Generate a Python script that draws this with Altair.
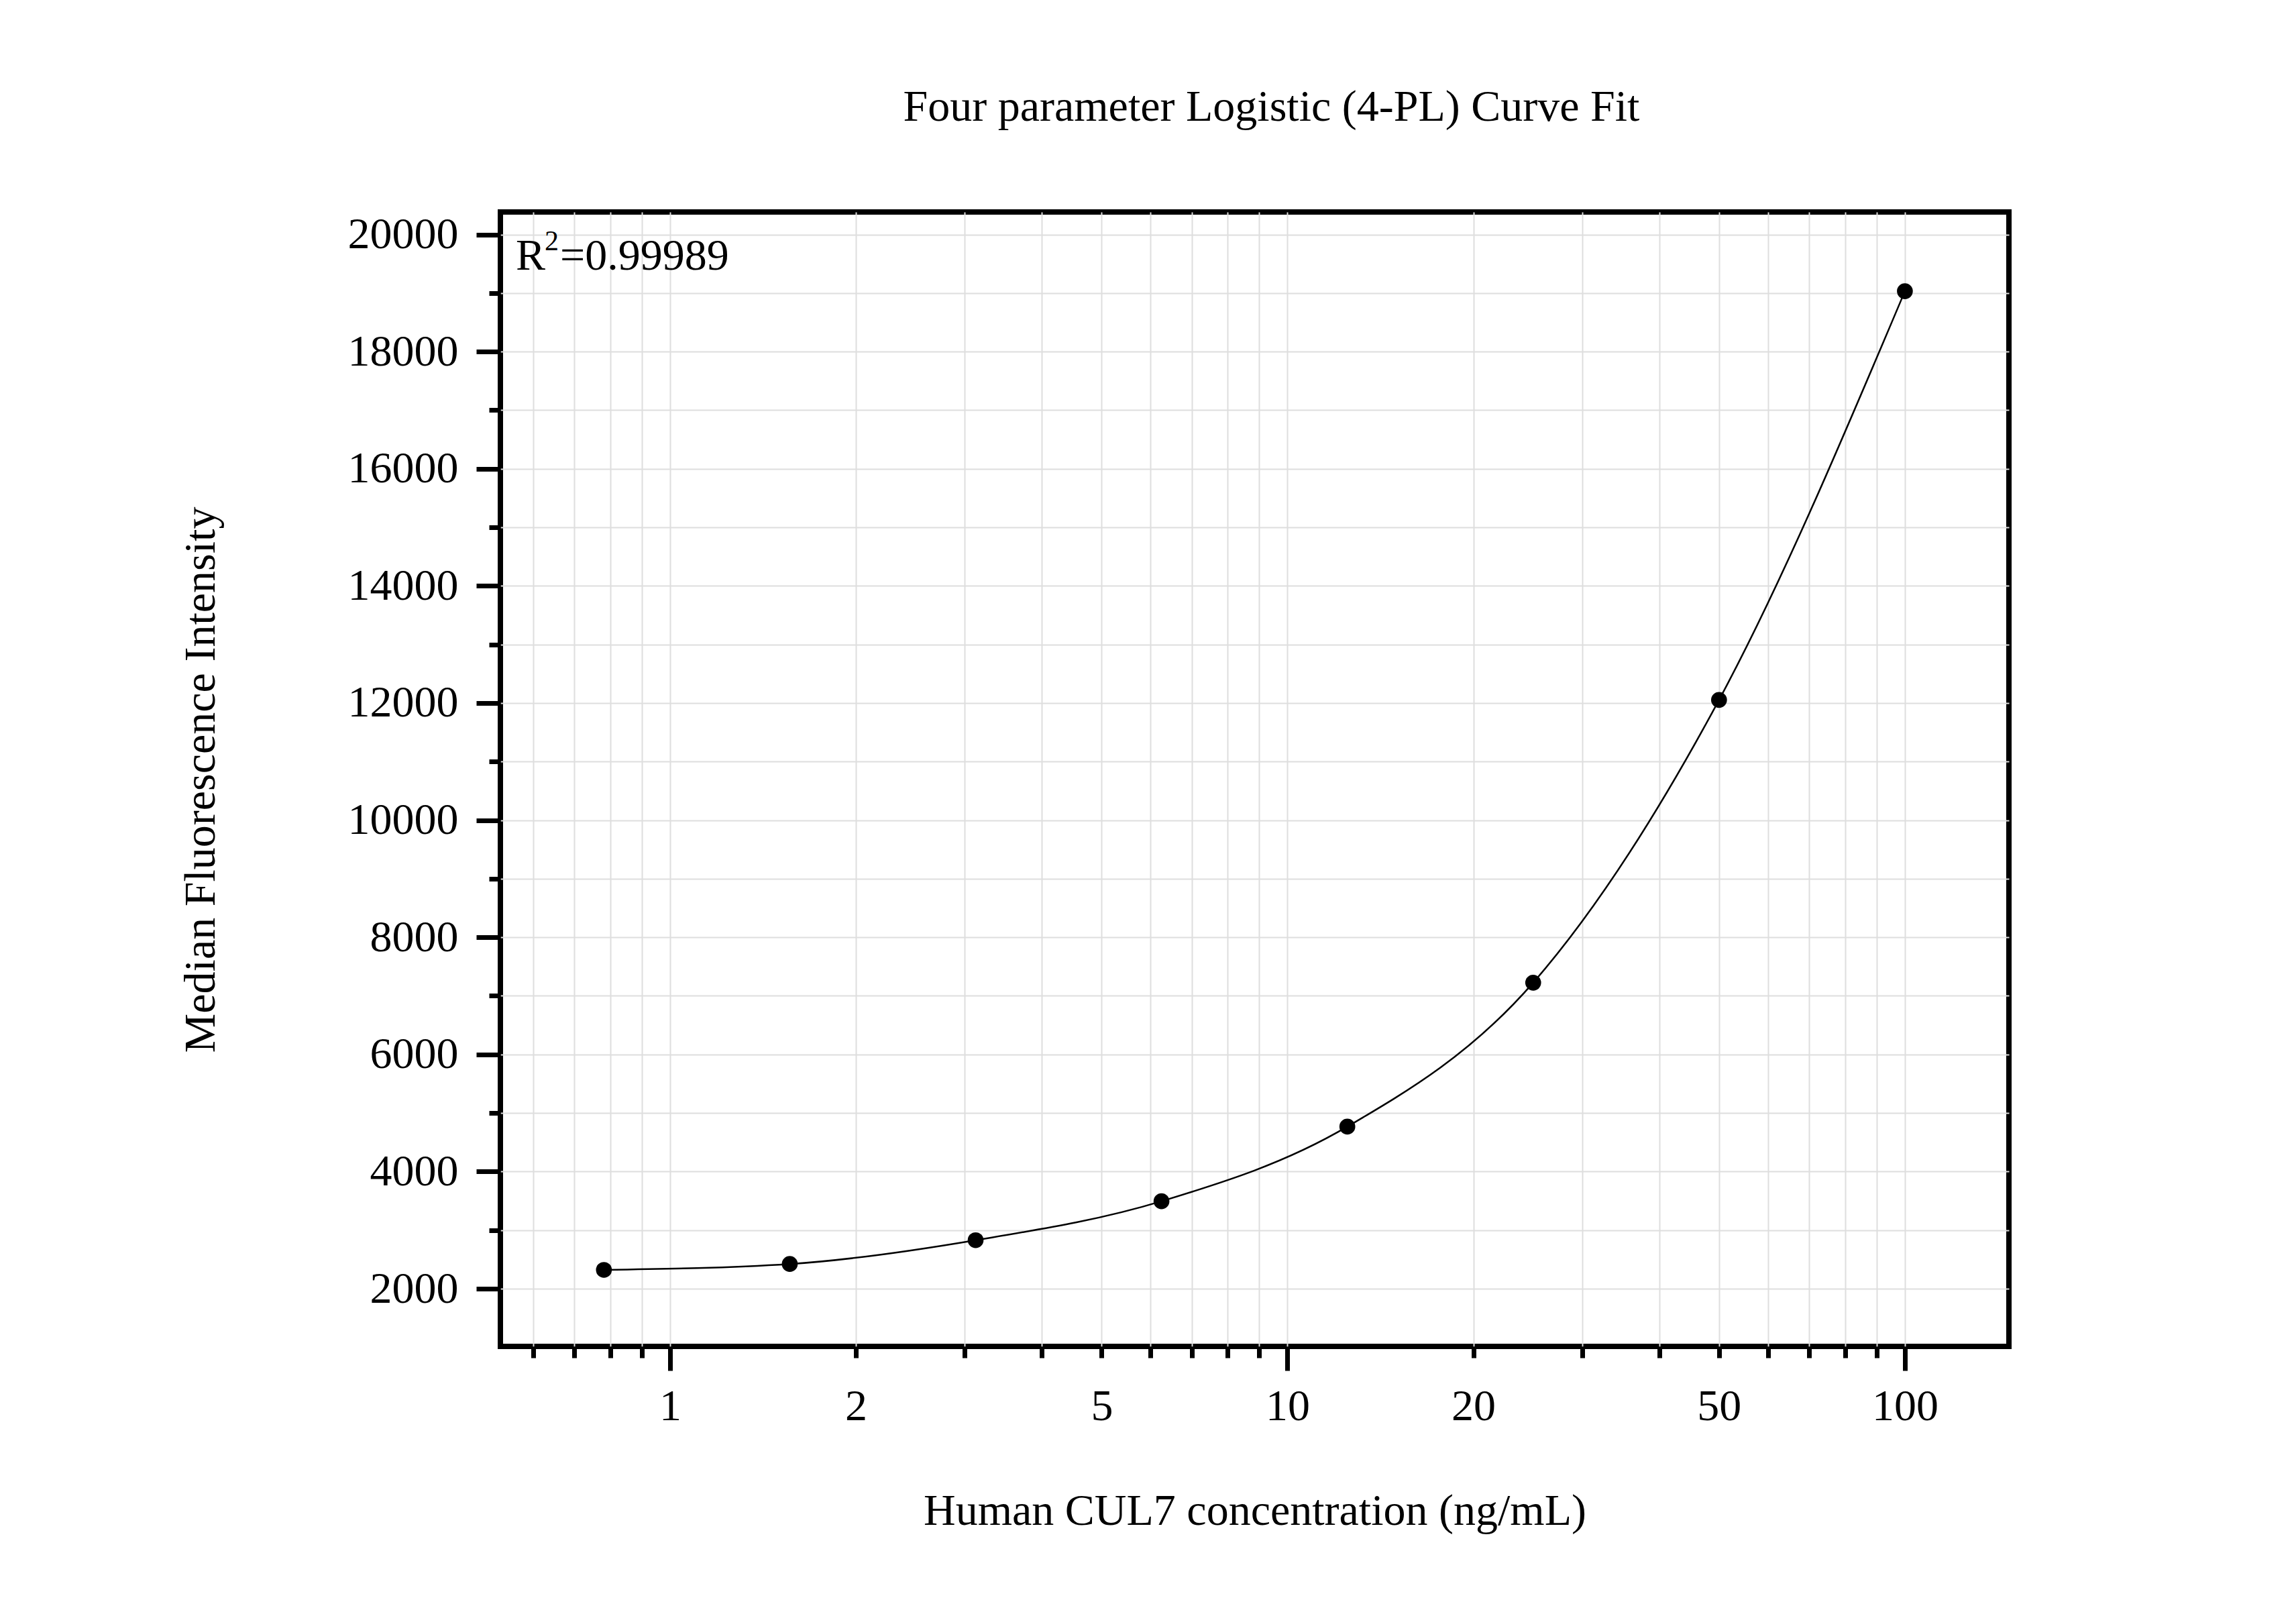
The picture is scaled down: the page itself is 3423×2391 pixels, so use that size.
import pandas as pd
import altair as alt

# standard curve: concentration (ng/mL) and median fluorescence intensity
conc = [0.78125, 1.5625, 3.125, 6.25, 12.5, 25, 50, 100]
mfi = [2321, 2422, 2828, 3493, 4767, 7225, 12053, 19031]

x_ticks = [0.6, 0.7, 0.8, 0.9, 1, 2, 3, 4, 5, 6, 7, 8, 9,
           10, 20, 30, 40, 50, 60, 70, 80, 90, 100]
x_labels = [1, 2, 5, 10, 20, 50, 100]
y_ticks = list(range(2000, 20001, 1000))
r2_parts = ["R", "2", "=0.99989"]

FONT = "Liberation Serif"
FS = 66

df = pd.DataFrame({"conc": conc, "mfi": mfi})

x_major = "datum.value == 1 || datum.value == 10 || datum.value == 100"
x_lab = "indexof([" + ",".join(str(v) for v in x_labels) + "], datum.value) >= 0"

x_axis = alt.Axis(
    values=x_ticks,
    labelExpr=x_lab + " ? format(datum.value, 'd') : ''",
    title="Human CUL7 concentration (ng/mL)",
    titleY=265, titleBaseline="alphabetic",
    titleFont=FONT, titleFontSize=FS, titleFontWeight="normal", titleColor="black",
    labelFont=FONT, labelFontSize=FS, labelColor="black",
    labelBaseline="top", labelFlush=False, labelOverlap=False,
    tickSize={"condition": {"test": x_major, "value": 36}, "value": 17},
    labelPadding={"condition": {"test": x_major, "value": 21}, "value": 40},
    tickWidth=7, tickColor="black",
    domain=False, grid=True, gridColor="#dedede", gridWidth=2,
)

y_axis = alt.Axis(
    values=y_ticks,
    labelExpr="datum.value % 2000 == 0 ? format(datum.value, 'd') : ''",
    title="Median Fluorescence Intensity",
    titleX=-427, titleY=846, titleAngle=270, titleBaseline="alphabetic",
    titleFont=FONT, titleFontSize=FS, titleFontWeight="normal", titleColor="black",
    labelFont=FONT, labelFontSize=FS, labelColor="black",
    labelPadding=27, labelOverlap=False, labelFlush=False,
    tickSize={"condition": {"test": "datum.value % 2000 == 0", "value": 36}, "value": 17},
    tickWidth=7, tickColor="black",
    domain=False, grid=True, gridColor="#dedede", gridWidth=2,
)

x = alt.X("conc:Q", axis=x_axis,
          scale=alt.Scale(type="log", domain=[0.531, 147.4], nice=False))
y = alt.Y("mfi:Q", axis=y_axis,
          scale=alt.Scale(domain=[1015, 20384], nice=False, zero=False))

curve = alt.Chart(df).mark_line(
    color="black", strokeWidth=2.5, interpolate="monotone"
).encode(x=x, y=y)

dots = alt.Chart(df).mark_circle(
    color="black", size=560, opacity=1
).encode(x=x, y=y)


def note(text, px, py, size):
    return alt.Chart(pd.DataFrame({"t": [text]})).mark_text(
        font=FONT, fontSize=size, color="black", align="left", baseline="alphabetic"
    ).encode(x=alt.value(px), y=alt.value(py), text="t:N")


r2 = note(r2_parts[0], 23, 86, FS) + note(r2_parts[1], 66, 57, 42) + note(r2_parts[2], 89, 86, FS)

chart = alt.layer(curve, dots, r2).properties(
    width=2249,
    height=1691,
    background="white",
    autosize=alt.AutoSizeParams(type="none"),
    padding={"left": 738, "top": 308, "right": 400, "bottom": 350},
    title=alt.TitleParams(
        "Four parameter Logistic (4-PL) Curve Fit",
        font=FONT, fontSize=FS, fontWeight="normal", color="black",
        anchor="middle", dx=25, offset=70, baseline="alphabetic",
    ),
).configure_view(
    stroke="black", strokeWidth=8
)

chart.save("out.html", embed_options={"renderer": "svg", "actions": False})
